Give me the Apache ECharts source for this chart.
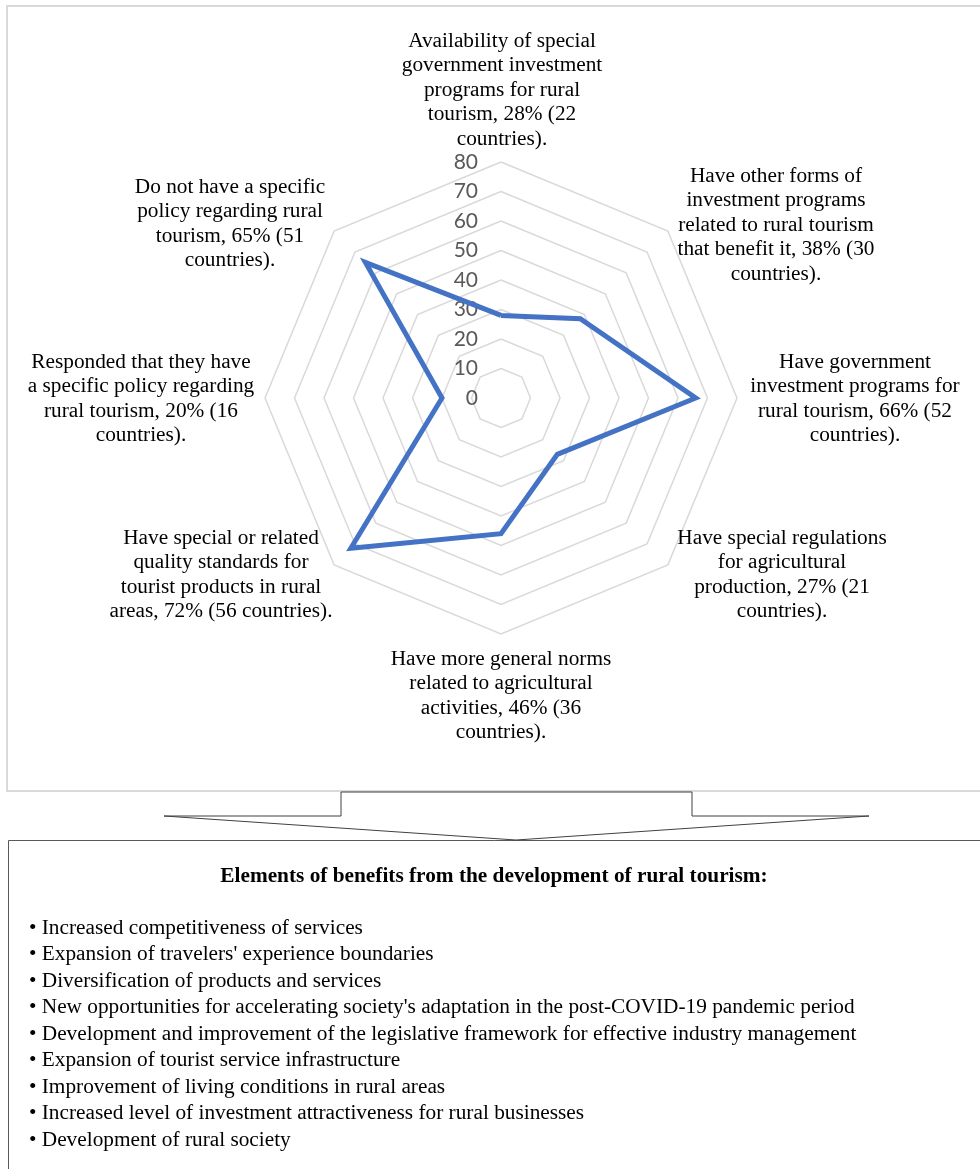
<!DOCTYPE html>
<html>
<head>
<meta charset="utf-8">
<title>Rural tourism policy radar</title>
<script src="https://cdn.jsdelivr.net/npm/echarts@6/dist/echarts.min.js"></script>
<style>
  html, body { margin: 0; padding: 0; background: #fff; }
  #chartContainer { width: 980px; height: 1169px; }
</style>
</head>
<body>
<div id="chartContainer"></div>
<script>
// indicators in the order echarts lays them out (top, then counter-clockwise)
var categories = [
    'Availability of special\ngovernment investment\nprograms for rural\ntourism, 28% (22\ncountries).',
    'Do not have a specific\npolicy regarding rural\ntourism, 65% (51\ncountries).',
    'Responded that they have\na specific policy regarding\nrural tourism, 20% (16\ncountries).',
    'Have special or related\nquality standards for\ntourist products in rural\nareas, 72% (56 countries).',
    'Have more general norms\nrelated to agricultural\nactivities, 46% (36\ncountries).',
    'Have special regulations\nfor agricultural\nproduction, 27% (21\ncountries).',
    'Have government\ninvestment programs for\nrural tourism, 66% (52\ncountries).',
    'Have other forms of\ninvestment programs\nrelated to rural tourism\nthat benefit it, 38% (30\ncountries).'
];
var values = [28, 65, 20, 72, 46, 27, 66, 38];
var axisMax = 80;
var axisSplits = 8;

var boxTitle = 'Elements of benefits from the development of rural tourism:';
var benefits = [
    'Increased competitiveness of services',
    "Expansion of travelers' experience boundaries",
    'Diversification of products and services',
    "New opportunities for accelerating society's adaptation in the post-COVID-19 pandemic period",
    'Development and improvement of the legislative framework for effective industry management',
    'Expansion of tourist service infrastructure',
    'Improvement of living conditions in rural areas',
    'Increased level of investment attractiveness for rural businesses',
    'Development of rural society'
];

// where each category caption sits (centre x, top y)
var labelPos = [
    [502, 29], [230, 175], [141, 350], [221, 526],
    [501, 647], [782, 526], [855, 350], [776, 164]
];

var serif = '"Liberation Serif", "Times New Roman", serif';
var chart = echarts.init(document.getElementById('chartContainer'));

var graphics = [
    {
        type: 'rect', z: 0,
        shape: { x: 7, y: 6, width: 1000, height: 785 },
        style: { fill: 'none', stroke: '#d9d9d9', lineWidth: 2 }
    },
    {
        type: 'polygon', z: 1,
        shape: { points: [[164, 816], [341, 816], [341, 792], [692, 792], [692, 816], [869, 816], [516, 840]] },
        style: { fill: '#fff', stroke: '#404040', lineWidth: 1 }
    },
    {
        type: 'rect', z: 0,
        shape: { x: 8.5, y: 840.5, width: 1000, height: 400 },
        style: { fill: 'none', stroke: '#595959', lineWidth: 1 }
    },
    {
        type: 'text', z: 2,
        style: {
            text: boxTitle, x: 494, y: 876,
            font: 'bold 21.3px ' + serif, fill: '#000',
            align: 'center', verticalAlign: 'middle',
            textAlign: 'center', textVerticalAlign: 'middle'
        }
    }
];

categories.forEach(function (c, i) {
    graphics.push({
        type: 'text', z: 2,
        style: {
            text: c, x: labelPos[i][0], y: labelPos[i][1],
            font: '21.3px ' + serif, fill: '#000', lineHeight: 24.5,
            align: 'center', verticalAlign: 'top',
            textAlign: 'center', textVerticalAlign: 'top'
        }
    });
});

benefits.forEach(function (b, i) {
    graphics.push({
        type: 'text', z: 2,
        style: {
            text: '\u2022 ' + b, x: 29, y: 928 + i * 26.5,
            font: '21.3px ' + serif, fill: '#000',
            align: 'left', verticalAlign: 'middle',
            textAlign: 'left', textVerticalAlign: 'middle'
        }
    });
});

var indicators = categories.map(function (c, i) {
    var ind = { name: c, min: 0, max: axisMax };
    if (i === 0) {
        ind.axisLabel = {
            show: true,
            color: '#595959',
            fontSize: 21,
            fontFamily: 'Lato',
            align: 'right',
            margin: 23
        };
    }
    return ind;
});

chart.setOption({
    animation: false,
    radar: {
        center: [501, 398],
        radius: 236,
        startAngle: 90,
        shape: 'polygon',
        splitNumber: axisSplits,
        indicator: indicators,
        axisName: { show: false },
        axisLine: { show: false },
        axisTick: { show: false },
        axisLabel: { show: false },
        splitArea: { show: false },
        splitLine: { lineStyle: { color: '#d9d9d9', width: 1.5 } }
    },
    series: [{
        type: 'radar',
        symbol: 'none',
        lineStyle: { color: '#4472C4', width: 5, join: 'miter' },
        data: [{ value: values, name: 'Share of countries' }]
    }],
    graphic: graphics
});
</script>
</body>
</html>
